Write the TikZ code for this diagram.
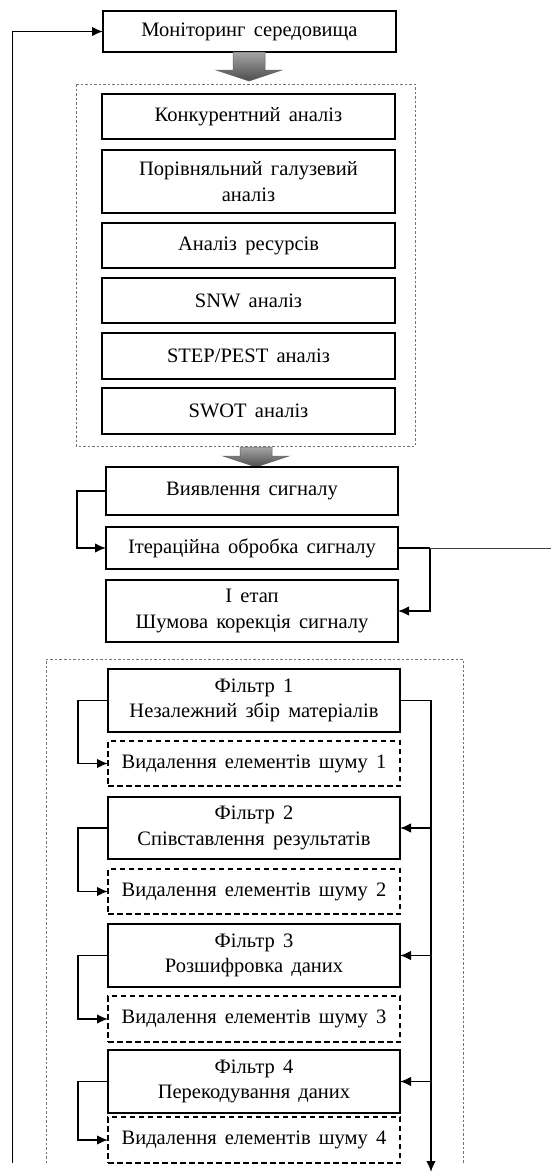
\documentclass[tikz,border=0pt]{standalone}
\usepackage{fontspec}
\setmainfont{Liberation Serif}[WordSpace=1.6]
\usetikzlibrary{arrows.meta}
\begin{document}
\begin{tikzpicture}[x=1pt,y=-1pt,
  every node/.style={font=\fontsize{20.5}{25.5}\selectfont, align=center, inner sep=0pt, outer sep=0pt},
  sbox/.style={draw=black, line width=1.7pt, minimum width=293pt},
  dbox/.style={draw=black, line width=1.7pt, dash pattern=on 5.5pt off 3.5pt, minimum width=292pt},
  frame/.style={draw=black!55, line width=0.8pt, dash pattern=on 2.5pt off 2pt},
  conn/.style={draw=black, line width=1.6pt},
  arr/.style={conn, -{Latex[length=11pt,width=9.5pt]}},
  blockarrow/.style={draw=black!60, line width=0.5pt, top color=black!35, bottom color=black!70}
]
\useasboundingbox (0,0) rectangle (551,1173);

% top part
\node[sbox, minimum height=41pt] (mon) at (249.5,31.5) {Моніторинг середовища};
\draw[frame] (76,84) rectangle (415,446);
\node[sbox, minimum height=45pt] (konk) at (248.5,116.5) {Конкурентний аналіз};
\node[sbox, minimum height=63pt] (por) at (248.5,181.5) {Порівняльний галузевий\\аналіз};
\node[sbox, minimum height=45pt] (res) at (248.5,245.5) {Аналіз ресурсів};
\node[sbox, minimum height=45pt] (snw) at (248.5,300.5) {SNW аналіз};
\node[sbox, minimum height=46pt] (stp) at (248.5,356) {STEP/PEST аналіз};
\node[sbox, minimum height=46pt] (swot) at (248.5,411) {SWOT аналіз};

\path[blockarrow] (233,52) -- (265,52) -- (265,70) -- (282,70) -- (249,81) -- (216,70) -- (233,70) -- cycle;
\path[blockarrow] (240,447) -- (272,447) -- (272,456) -- (289,456) -- (256,467) -- (223,456) -- (240,456) -- cycle;

\node[sbox, minimum width=292pt, minimum height=48pt] (vyav) at (252,491) {Виявлення сигналу};
\node[sbox, minimum width=292pt, minimum height=42pt] (iter) at (252,548) {Ітераційна обробка сигналу};
\node[sbox, minimum width=292pt, minimum height=62pt] (etap) at (252,611) {I етап\\Шумова корекція сигналу};

\draw[arr] (vyav.west) -- ++(-29,0) |- (iter.west);
\coordinate (ic) at (430,548);
\coordinate (redge) at (551,548);
\draw[conn] (iter.east) -- (ic);
\draw[arr] (ic) |- (etap.east);
\draw[draw=black!75, line width=1pt] (ic) -- (redge);

% filter frame
\draw[frame] (46,1163) -- (46,659) -- (463,659) -- (463,1163);

\node[sbox, minimum width=292pt, minimum height=63pt] (f1) at (254,700.5) {Фільтр 1\\Незалежний збір матеріалів};
\node[dbox, minimum height=45pt] (d1) at (254,763.5) {Видалення елементів шуму 1};
\node[sbox, minimum width=292pt, minimum height=62pt] (f2) at (254,828) {Фільтр 2\\Співставлення результатів};
\node[dbox, minimum height=45pt] (d2) at (254,891.5) {Видалення елементів шуму 2};
\node[sbox, minimum width=292pt, minimum height=63pt] (f3) at (254,955.5) {Фільтр 3\\Розшифровка даних};
\node[dbox, minimum height=46pt] (d3) at (254,1019) {Видалення елементів шуму 3};
\node[sbox, minimum width=292pt, minimum height=63pt] (f4) at (254,1081.5) {Фільтр 4\\Перекодування даних};
\node[dbox, minimum height=46pt] (d4) at (254,1140) {Видалення елементів шуму 4};

\draw[arr] (f1.west) -- ++(-30,0) |- (d1.west);
\draw[arr] (f2.west) -- ++(-30,0) |- (d2.west);
\draw[arr] (f3.west) -- ++(-30,0) |- (d3.west);
\draw[arr] (f4.west) -- ++(-30,0) |- (d4.west);

\coordinate (rbot) at (431,1172);
\draw[arr] (f1.east) -| (rbot);
\draw[arr] (f2.east -| rbot) -- (f2.east);
\draw[arr] (f3.east -| rbot) -- (f3.east);
\draw[arr] (f4.east -| rbot) -- (f4.east);

% feedback loop
\coordinate (fb) at (12.5,1163);
\draw[arr] (fb) |- (mon.west);
\end{tikzpicture}
\end{document}
